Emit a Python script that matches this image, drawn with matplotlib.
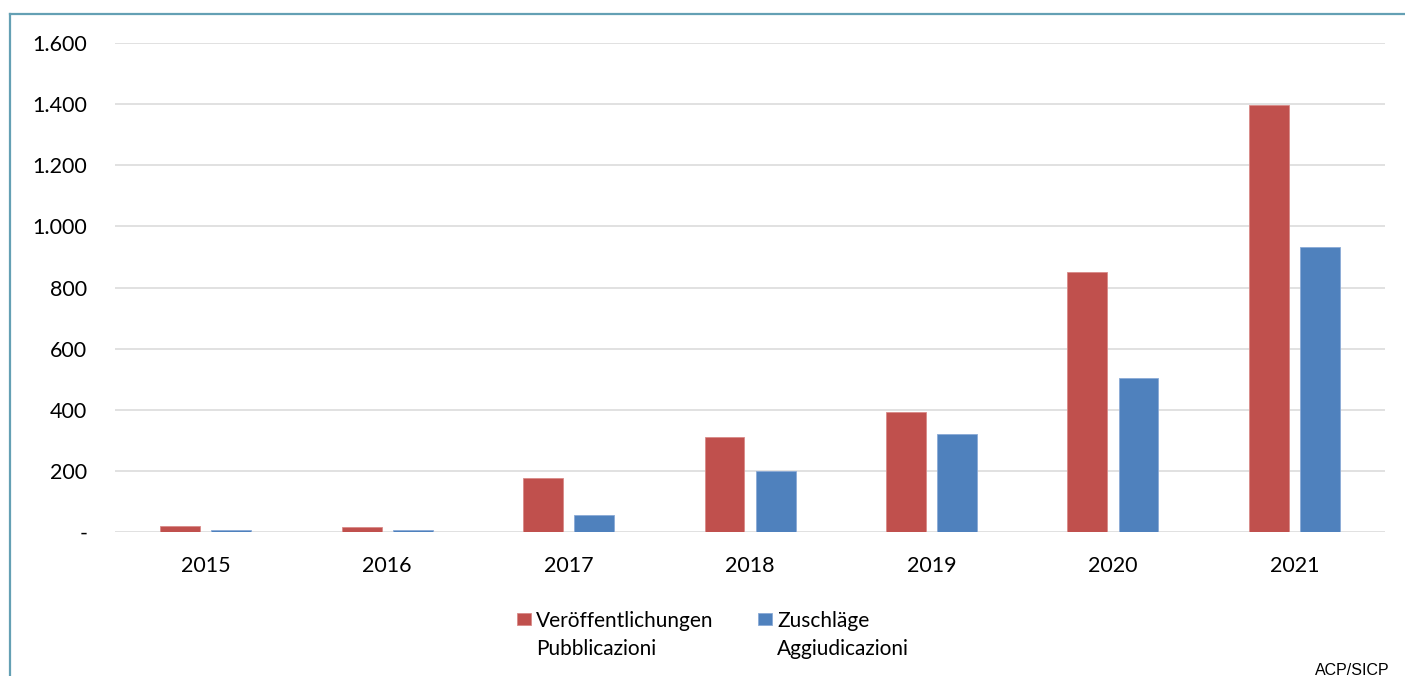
#!/usr/bin/env python3
""" Bar chart of publications and awards per year (ACP/SICP). """

import matplotlib
matplotlib.use('Agg')
import matplotlib.pyplot as plt
from matplotlib.container import BarContainer
from matplotlib.legend_handler import HandlerPatch, update_from_first_child
from matplotlib.lines import Line2D
from matplotlib.patches import Rectangle
import numpy as np

# Data
years = ['2015', '2016', '2017', '2018', '2019', '2020', '2021']
publications = [20, 15, 178, 310, 393, 851, 1397]
awards = [6, 7, 55, 200, 321, 504, 933]
label_pub = 'Veröffentlichungen\nPubblicazioni'
label_awd = 'Zuschläge\nAggiudicazioni'
yticks = [0, 200, 400, 600, 800, 1000, 1200, 1400, 1600]
ytick_labels = ['-', '200', '400', '600', '800', '1.000', '1.200', '1.400', '1.600']

red = '#C0504D'
blue = '#4F81BD'
grid = '#D9D9D9'
frame = '#64A0B4'
legend_fs = 15

plt.rcParams['font.family'] = ['Lato', 'DejaVu Sans']

fig = plt.figure(figsize=(14.05, 6.76), dpi=100)
ax = fig.add_axes([0.0819, 0.2130, 0.9039, 0.7234])

# Bars
x = np.arange(len(years))
width = 0.22
offset = 0.141
ax.bar(x - offset, publications, width, color=red, edgecolor='#D98A88',
       linewidth=0.6, label=label_pub, zorder=3)
ax.bar(x + offset, awards, width, color=blue, edgecolor='#8AAAD6',
       linewidth=0.6, label=label_awd, zorder=3)

# Axes
ax.set_xlim(-0.5, len(years) - 0.5)
ax.set_ylim(0, 1600)
ax.set_xticks(x)
ax.set_xticklabels(years, fontsize=15.5)
ax.set_yticks(yticks)
ax.set_yticklabels(ytick_labels, fontsize=15.5)
ax.tick_params(axis='both', length=0, colors='#000000')
ax.tick_params(axis='y', pad=20)
ax.tick_params(axis='x', pad=17)
for s in ax.spines.values():
    s.set_visible(False)
ax.grid(axis='y', color=grid, linewidth=1.1, zorder=0)
ax.set_axisbelow(True)


# Legend square sits next to the first line of the two-line label
def top_square(legend, orig_handle, xdescent, ydescent, width, height, fontsize):
    return Rectangle((-xdescent, -ydescent + 0.8 * fontsize), width, height)


handler = HandlerPatch(patch_func=top_square, update_func=update_from_first_child)
leg = fig.legend(loc='upper left', bbox_to_anchor=(517 / 1405, 1 - 611 / 676),
                 ncol=2, frameon=False, fontsize=legend_fs, borderpad=0,
                 borderaxespad=0, handlelength=0.67, handleheight=0.58,
                 handletextpad=0.24, columnspacing=2.15,
                 handler_map={BarContainer: handler})
for t in leg.get_texts():
    t.set_linespacing(1.5)

# Source
fig.text(1390 / 1405, 0.002, 'ACP/SICP', fontsize=11.5,
         family='Liberation Sans', ha='right', va='baseline')

# Frame lines (top and left)
fig.add_artist(Line2D([9.5 / 1405, 1.0], [1 - 14 / 676, 1 - 14 / 676],
                      color=frame, linewidth=1.6, transform=fig.transFigure))
fig.add_artist(Line2D([9.5 / 1405, 9.5 / 1405], [0.0, 1 - 14 / 676],
                      color=frame, linewidth=1.6, transform=fig.transFigure))

fig.savefig('out.png', dpi=100)
